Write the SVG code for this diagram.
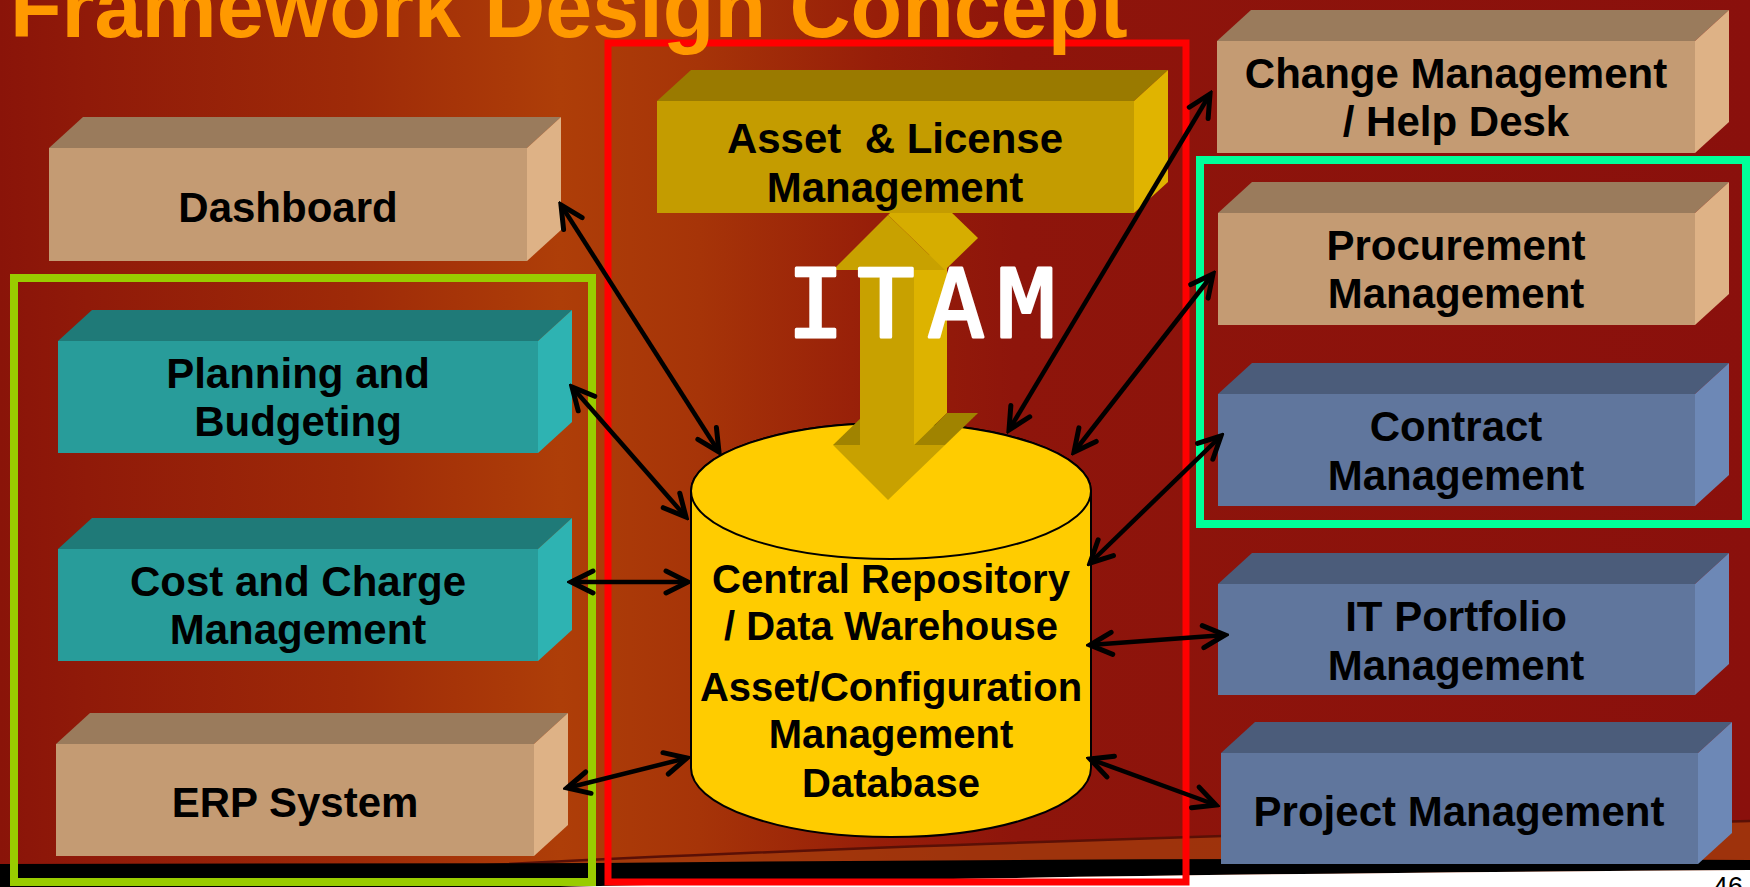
<svg xmlns="http://www.w3.org/2000/svg" width="1750" height="887" viewBox="0 0 1750 887">
<defs>
<linearGradient id="bg" x1="0" y1="0" x2="1" y2="0">
<stop offset="0" stop-color="#8A1409"/>
<stop offset="0.05" stop-color="#901A09"/>
<stop offset="0.2" stop-color="#9E2A08"/>
<stop offset="0.32" stop-color="#AE3E08"/>
<stop offset="0.4" stop-color="#A63408"/>
<stop offset="0.5" stop-color="#971E09"/>
<stop offset="0.58" stop-color="#8E150B"/>
<stop offset="1" stop-color="#8A100C"/>
</linearGradient>
<marker id="ah" viewBox="-26 -14 30 28" refX="0" refY="0" markerWidth="30" markerHeight="28" markerUnits="userSpaceOnUse" orient="auto-start-reverse">
<path d="M-22,-11 L0,0 L-22,11" fill="none" stroke="#000" stroke-width="5" stroke-linecap="round" stroke-linejoin="miter"/>
</marker>
<style>
.lbl{font-family:"Liberation Sans",Arial,sans-serif;font-weight:bold;font-size:42px;fill:#000;text-anchor:middle;white-space:pre}
.cyl{font-family:"Liberation Sans",Arial,sans-serif;font-weight:bold;font-size:40px;fill:#000;text-anchor:middle}
.tanF{fill:#C49B73}.tanT{fill:#9A7B5C}.tanR{fill:#DEB286}
.tealF{fill:#289C9A}.tealT{fill:#1F7A78}.tealR{fill:#2EB3B2}
.bluF{fill:#60769D}.bluT{fill:#4B5C7A}.bluR{fill:#6D88B6}
.golF{fill:#C49C00}.golT{fill:#9A7A00}.golR{fill:#E0B400}
.frame{fill:none}
.conn{stroke:#000;stroke-width:4.5;fill:none;marker-start:url(#ah);marker-end:url(#ah)}
</style>
</defs>

<rect x="0" y="0" width="1750" height="887" fill="url(#bg)"/>
<path d="M470,866 Q900,843 1750,821 L1750,887 L470,887 Z" fill="#A33B0C" opacity="0.8"/>
<path d="M470,866 Q900,843 1750,821" fill="none" stroke="#5A1006" stroke-width="2.5"/>
<path d="M0,864 L600,863 Q1200,857 1750,860 L1750,870 Q1100,874 560,887 L0,887 Z" fill="#000"/>
<path d="M560,887 Q1100,874 1750,870 L1750,887 Z" fill="#FFF"/>
<text x="1713" y="896" font-family="Liberation Sans, Arial, sans-serif" font-size="27" fill="#000">46</text>

<g id="frames">
<rect class="frame" x="14" y="278" width="578" height="604" stroke="#99CC00" stroke-width="8"/>
<rect class="frame" x="608" y="43" width="578" height="839" stroke="#FF0000" stroke-width="7"/>
<rect class="frame" x="1200" y="160" width="546" height="364" stroke="#00FF99" stroke-width="8"/>
</g>

<text id="title" x="10" y="37" font-family="Liberation Sans, Arial, sans-serif" font-weight="bold" font-size="84.5" fill="#FF9900">Framework Design Concept</text>

<g id="dashboard">
<polygon class="tanT" points="49,148 83,117 561,117 527,148"/>
<polygon class="tanR" points="527,148 561,117 561,230 527,261"/>
<rect class="tanF" x="49" y="148" width="478" height="113"/>
<text class="lbl" x="288" y="222">Dashboard</text>
</g>

<g id="planning">
<polygon class="tealT" points="58,341 92,310 572,310 538,341"/>
<polygon class="tealR" points="538,341 572,310 572,422 538,453"/>
<rect class="tealF" x="58" y="341" width="480" height="112"/>
<text class="lbl" x="298" y="388">Planning and</text>
<text class="lbl" x="298" y="436">Budgeting</text>
</g>

<g id="cost">
<polygon class="tealT" points="58,549 92,518 572,518 538,549"/>
<polygon class="tealR" points="538,549 572,518 572,630 538,661"/>
<rect class="tealF" x="58" y="549" width="480" height="112"/>
<text class="lbl" x="298" y="596">Cost and Charge</text>
<text class="lbl" x="298" y="644">Management</text>
</g>

<g id="erp">
<polygon class="tanT" points="56,744 90,713 568,713 534,744"/>
<polygon class="tanR" points="534,744 568,713 568,825 534,856"/>
<rect class="tanF" x="56" y="744" width="478" height="112"/>
<text class="lbl" x="295" y="817">ERP System</text>
</g>

<g id="repository">
<path d="M691,491 V768 A200,69 0 0 0 1091,768 V491 A200,68 0 0 0 691,491 Z" fill="#FFCC00" stroke="#000" stroke-width="2"/>
<ellipse cx="891" cy="491" rx="200" ry="68" fill="#FFCC00" stroke="#000" stroke-width="2"/>
<text class="cyl" x="891" y="593">Central Repository</text>
<text class="cyl" x="891" y="640">/ Data Warehouse</text>
<text class="cyl" x="891" y="701">Asset/Configuration</text>
<text class="cyl" x="891" y="748">Management</text>
<text class="cyl" x="891" y="797">Database</text>
</g>

<g id="itam-arrow">
<polygon points="914,270 947,238 947,413 914,445" fill="#DDB300"/>
<polygon points="888,215 921,183 978,238 945,270" fill="#D6AD00"/>
<polygon points="914,445 947,413 978,413 945,445" fill="#A08300"/>
<polygon points="833,445 866,413 893,413 860,445" fill="#A08300"/>
<polygon points="945,445 978,413 921,468 888,500" fill="#CFA600"/>
<polygon points="888,215 945,270 914,270 914,445 945,445 888,500 833,445 860,445 860,270 833,270" fill="#C8A100"/>
</g>

<g id="asset">
<polygon class="golT" points="657,101 691,70 1168,70 1134,101"/>
<polygon class="golR" points="1134,101 1168,70 1168,182 1134,213"/>
<rect class="golF" x="657" y="101" width="477" height="112"/>
<text class="lbl" x="895" y="153">Asset  &amp; License</text>
<text class="lbl" x="895" y="202">Management</text>
</g>

<text id="itam" x="787" y="337" font-family="DejaVu Sans Mono, monospace" font-size="95" fill="#FFF" stroke="#FFF" stroke-width="3" stroke-linejoin="round" textLength="268" lengthAdjust="spacing">ITAM</text>

<g id="change">
<polygon class="tanT" points="1217,41 1251,10 1729,10 1695,41"/>
<polygon class="tanR" points="1695,41 1729,10 1729,122 1695,153"/>
<rect class="tanF" x="1217" y="41" width="478" height="112"/>
<text class="lbl" x="1456" y="88">Change Management</text>
<text class="lbl" x="1456" y="136">/ Help Desk</text>
</g>

<g id="procurement">
<polygon class="tanT" points="1218,213 1252,182 1729,182 1695,213"/>
<polygon class="tanR" points="1695,213 1729,182 1729,294 1695,325"/>
<rect class="tanF" x="1218" y="213" width="477" height="112"/>
<text class="lbl" x="1456" y="260">Procurement</text>
<text class="lbl" x="1456" y="308">Management</text>
</g>

<g id="contract">
<polygon class="bluT" points="1218,394 1252,363 1729,363 1695,394"/>
<polygon class="bluR" points="1695,394 1729,363 1729,475 1695,506"/>
<rect class="bluF" x="1218" y="394" width="477" height="112"/>
<text class="lbl" x="1456" y="441">Contract</text>
<text class="lbl" x="1456" y="490">Management</text>
</g>

<g id="portfolio">
<polygon class="bluT" points="1218,584 1252,553 1729,553 1695,584"/>
<polygon class="bluR" points="1695,584 1729,553 1729,664 1695,695"/>
<rect class="bluF" x="1218" y="584" width="477" height="111"/>
<text class="lbl" x="1456" y="631">IT Portfolio</text>
<text class="lbl" x="1456" y="680">Management</text>
</g>

<g id="project">
<polygon class="bluT" points="1221,753 1255,722 1732,722 1698,753"/>
<polygon class="bluR" points="1698,753 1732,722 1732,833 1698,864"/>
<rect class="bluF" x="1221" y="753" width="477" height="111"/>
<text class="lbl" x="1459" y="826">Project Management</text>
</g>

<g id="connectors">
<line class="conn" x1="561" y1="205" x2="719" y2="452"/>
<line class="conn" x1="572" y1="387" x2="686" y2="517"/>
<line class="conn" x1="571" y1="582" x2="688" y2="582"/>
<line class="conn" x1="567" y1="788" x2="687" y2="758"/>
<line class="conn" x1="1009" y1="430" x2="1210" y2="94"/>
<line class="conn" x1="1074" y1="452" x2="1213" y2="274"/>
<line class="conn" x1="1090" y1="563" x2="1221" y2="436"/>
<line class="conn" x1="1090" y1="645" x2="1225" y2="635"/>
<line class="conn" x1="1090" y1="759" x2="1216" y2="805"/>
</g>
</svg>
